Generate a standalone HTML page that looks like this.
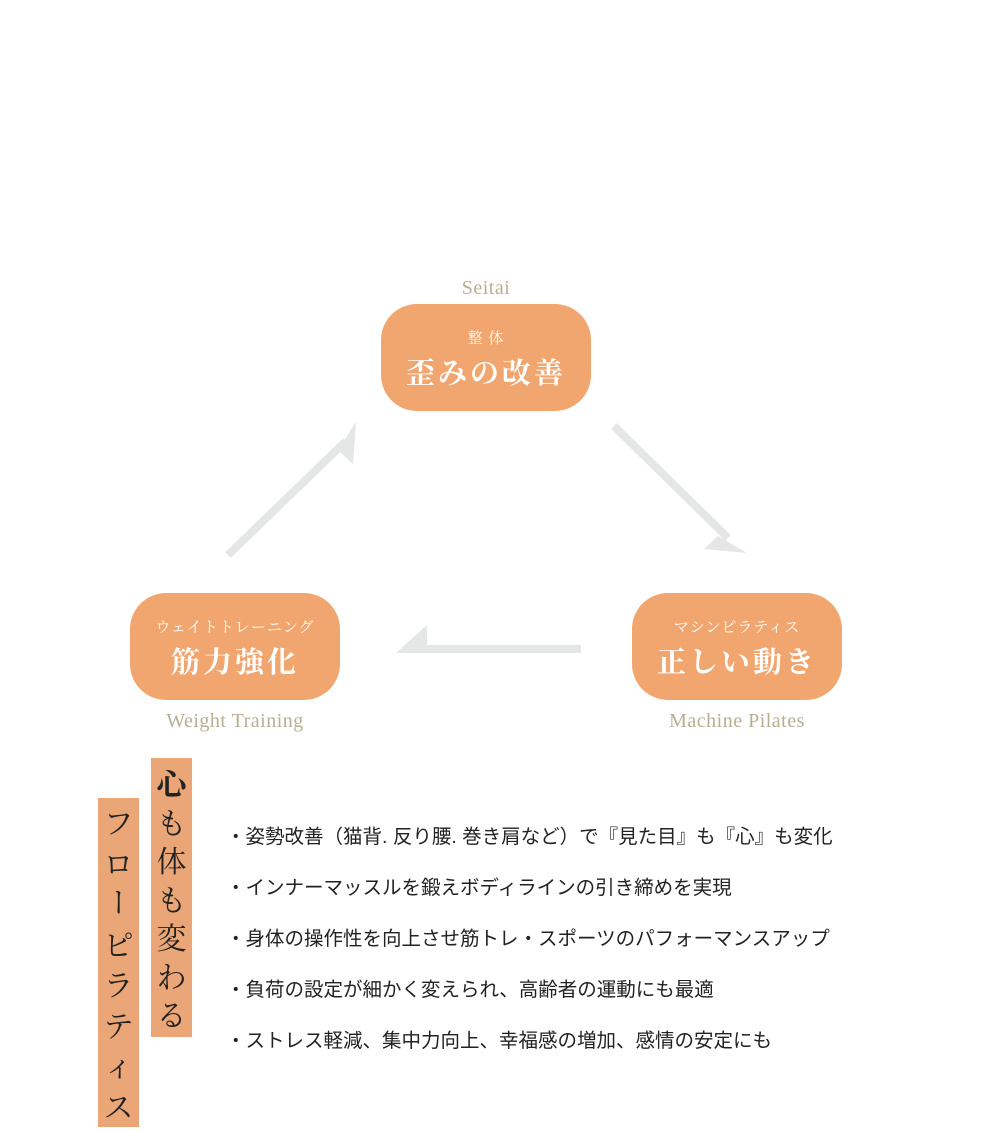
<!DOCTYPE html>
<html><head><meta charset="utf-8"><style>
body{margin:0;width:1000px;height:1130px;background:#fff;position:relative;overflow:hidden;font-family:"Liberation Serif","Noto Serif CJK JP",serif}
.box{position:absolute;width:210px;height:107px;border-radius:36px;background:#f2a66f;color:#fff;text-align:center;font-family:"Liberation Serif","Noto Serif CJK JP",serif}
.box .s{position:absolute;left:0;right:0;top:23px;font-size:15px;letter-spacing:1px}
.box .b{position:absolute;left:0;right:0;top:52px;font-size:29px;font-weight:bold;letter-spacing:3px;line-height:36px}
.lab{position:absolute;color:#b8ae93;font-size:20px;text-align:center;width:240px;letter-spacing:.5px}
.v{position:absolute;background:#eba677;color:#222;font-family:"Noto Serif CJK JP",serif;font-size:30px;text-align:center;box-sizing:border-box;overflow:hidden}
.v span{display:block}
.v span.vt{writing-mode:vertical-rl;height:40.5px;width:41px;line-height:41px;text-align:center}
.li{position:absolute;left:226px;font-family:"Liberation Sans","Noto Sans CJK JP",sans-serif;font-size:19.5px;letter-spacing:0;color:#222;line-height:24px;white-space:nowrap}
</style></head><body>
<svg width="1000" height="1130" style="position:absolute;left:0;top:0">
<g fill="#e5e6e6" stroke="none">
<line x1="228" y1="555" x2="346" y2="441" stroke="#e5e6e6" stroke-width="8"/>
<polygon points="338,450 356,422 353,464"/>
<line x1="614" y1="426" x2="728" y2="538" stroke="#e5e6e6" stroke-width="8"/>
<polygon points="718,536 747,553 704,549"/>
<polygon points="396,653 427,625 427,645 581,645 581,653"/>
</g></svg>
<div class="lab" style="left:366px;top:277px">Seitai</div>
<div class="box" style="left:381px;top:304px"><div class="s">整 体</div><div class="b">歪みの改善</div></div>
<div class="box" style="left:130px;top:593px"><div class="s">ウェイトトレーニング</div><div class="b">筋力強化</div></div>
<div class="lab" style="left:115px;top:710px">Weight Training</div>
<div class="box" style="left:632px;top:593px"><div class="s">マシンピラティス</div><div class="b">正しい動き</div></div>
<div class="lab" style="left:617px;top:710px">Machine Pilates</div>
<div class="v" style="left:151px;top:758px;width:41px;height:279px;padding-top:5px;line-height:38.5px"><span style="font-weight:bold">心</span><span>も</span><span>体</span><span>も</span><span>変</span><span>わ</span><span>る</span></div>
<div class="v" style="left:98px;top:798px;width:41px;height:329px;padding-top:3px;line-height:40.5px"><span>フ</span><span>ロ</span><span class="vt">ー</span><span>ピ</span><span>ラ</span><span>テ</span><span>ィ</span><span>ス</span></div>
<div class="li" style="top:825px">・姿勢改善（猫背. 反り腰. 巻き肩など）で『見た目』も『心』も変化</div>
<div class="li" style="top:876px">・インナーマッスルを鍛えボディラインの引き締めを実現</div>
<div class="li" style="top:927px">・身体の操作性を向上させ筋トレ・スポーツのパフォーマンスアップ</div>
<div class="li" style="top:978px">・負荷の設定が細かく変えられ、高齢者の運動にも最適</div>
<div class="li" style="top:1029px">・ストレス軽減、集中力向上、幸福感の増加、感情の安定にも</div>
</body></html>
